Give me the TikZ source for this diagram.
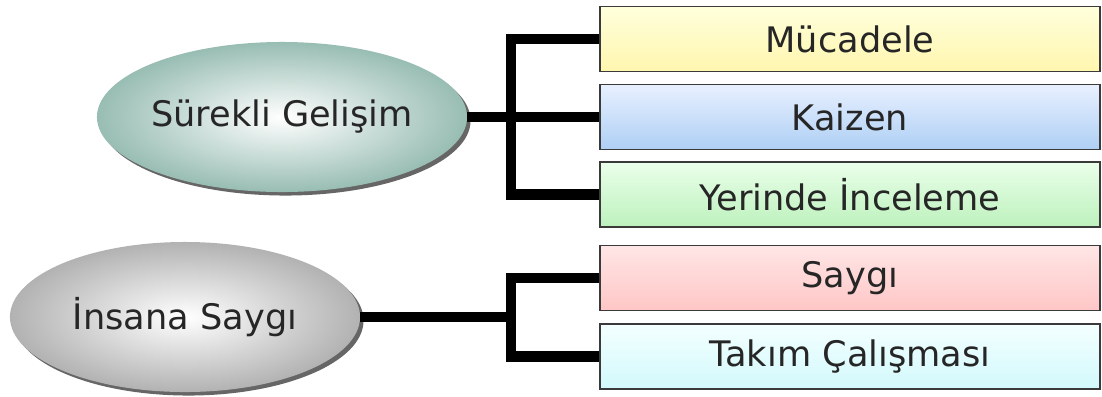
\documentclass[tikz,border=0pt]{standalone}
\usepackage{fontspec}
\setmainfont{DejaVu Sans}
\usepackage{tikz}
\usetikzlibrary{shapes.geometric, shadows, positioning}
\usepackage{xcolor}
\definecolor{txtGray}{HTML}{262626}
\definecolor{boxLine}{HTML}{3A3A3A}
\definecolor{tealEdge}{HTML}{98BDB3}
\definecolor{grayEdge}{HTML}{B2B2B2}
\definecolor{ylwTop}{HTML}{FFFFDC}
\definecolor{ylwBot}{HTML}{FFF6AE}
\definecolor{bluTop}{HTML}{E8F0FF}
\definecolor{bluBot}{HTML}{AECFF4}
\definecolor{grnTop}{HTML}{EAFFEA}
\definecolor{grnBot}{HTML}{BDF1BD}
\definecolor{pnkTop}{HTML}{FFE6E6}
\definecolor{pnkBot}{HTML}{FFC6C6}
\definecolor{cynTop}{HTML}{F4FFFF}
\definecolor{cynBot}{HTML}{D2F9FC}

\begin{document}
\begin{tikzpicture}[x=0.025cm, y=-0.025cm,
    blob/.style={ellipse, minimum width=8.75cm, minimum height=3.75cm, inner sep=0pt,
        text=txtGray, font=\fontsize{25}{29}\selectfont,
        drop shadow={shadow xshift=2.5pt, shadow yshift=-2.5pt, fill=black, opacity=0.6}},
    item/.style={rectangle, draw=boxLine, line width=0.9pt, minimum width=12.5cm,
        minimum height=1.62cm, inner sep=0pt, text=txtGray, font=\fontsize{25}{29}\selectfont},
    link/.style={line width=7.5pt, black}]
    \useasboundingbox (0,0) rectangle (1102,396);

    % Ellipses
    \node[blob, inner color=white, outer color=tealEdge] (sg) at (282,117) {Sürekli Gelişim};
    \node[blob, inner color=white, outer color=grayEdge] (is) at (185,317) {İnsana Saygı};

    % Boxes
    \node[item, top color=ylwTop, bottom color=ylwBot] (muc) at (850,39) {Mücadele};
    \node[item, top color=bluTop, bottom color=bluBot] (kai) at (850,117) {Kaizen};
    \node[item, top color=grnTop, bottom color=grnBot] (yer) at (850,194.5) {Yerinde İnceleme};
    \node[item, top color=pnkTop, bottom color=pnkBot] (say) at (850,278) {Saygı};
    \node[item, top color=cynTop, bottom color=cynBot] (tak) at (850,356.5) {Takım Çalışması};

    % Connectors
    \coordinate (j1) at (511,117);
    \coordinate (j2) at (511,317);
    \draw[link] (sg.east) -- (kai.west);
    \draw[link] (muc.west) -| (j1) |- (yer.west);
    \draw[link] (is.east) -- (j2);
    \draw[link] (say.west) -| (j2) |- (tak.west);
\end{tikzpicture}
\end{document}
